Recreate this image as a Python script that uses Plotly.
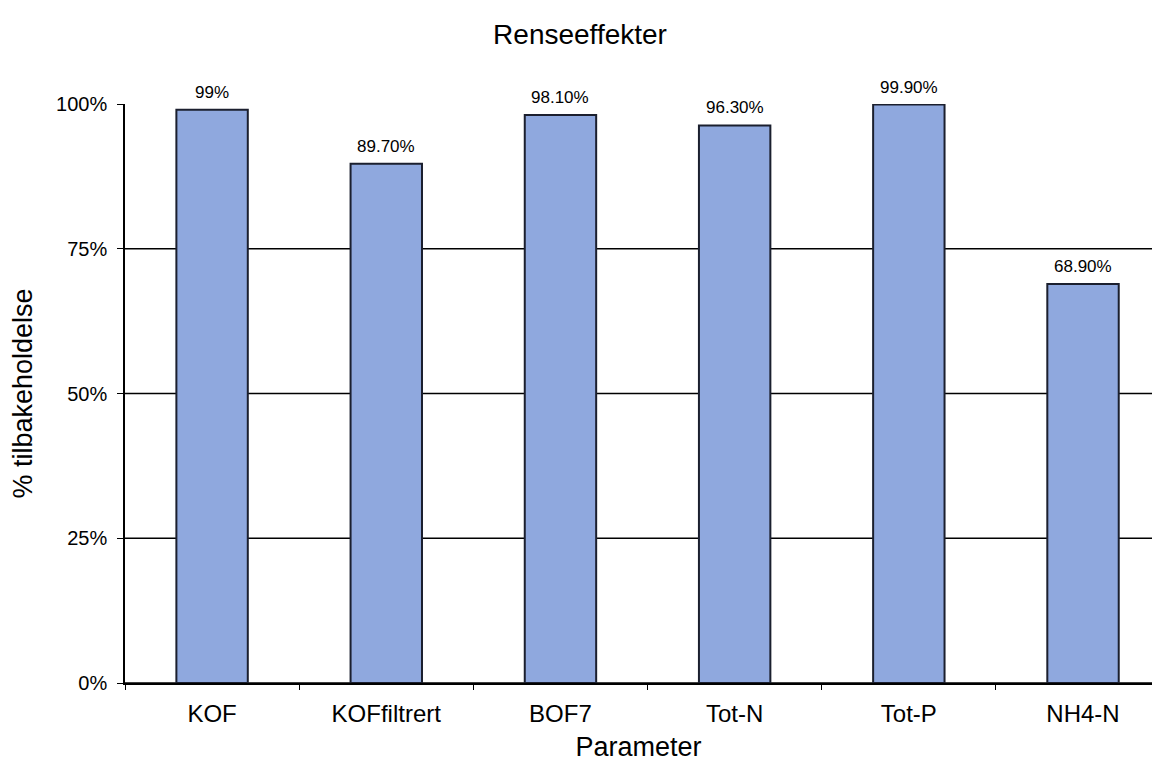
import plotly.graph_objects as go

categories = ["KOF", "KOFfiltrert", "BOF7", "Tot-N", "Tot-P", "NH4-N"]
values = [99.0, 89.7, 98.1, 96.3, 99.9, 68.9]
value_labels = ["99%", "89.70%", "98.10%", "96.30%", "99.90%", "68.90%"]
y_ticks = [0, 25, 50, 75, 100]
y_tick_labels = ["0%", "25%", "50%", "75%", "100%"]

FONT = "Liberation Sans, Arial, sans-serif"

fig = go.Figure()
fig.add_trace(go.Bar(
    x=categories, y=values, cliponaxis=False,
    marker=dict(color="#8FA8DE", line=dict(color="#1b1f2e", width=2)),
    width=0.41,
))

# data labels above the bars
for cat, val, lab in zip(categories, values, value_labels):
    fig.add_annotation(x=cat, y=val, text=lab, showarrow=False,
                       xref="x", yref="y", yanchor="bottom", yshift=6,
                       font=dict(family=FONT, size=17, color="black"))

# horizontal gridlines (and base line) running to the right edge of the page
for v in y_ticks[:-1]:
    fig.add_shape(type="line", xref="paper", x0=0, x1=1.02, yref="y", y0=v, y1=v,
                  line=dict(color="black", width=1.5), layer="below")

fig.update_layout(
    width=1144, height=758,
    margin=dict(l=117, r=0, t=96, b=83),
    paper_bgcolor="white", plot_bgcolor="white",
    showlegend=False,
    title=dict(text="Renseeffekter", x=0.5, xanchor="center", y=0.966, yanchor="middle",
               font=dict(family=FONT, size=28, color="black")),
    font=dict(family=FONT, color="black"),
)
fig.update_xaxes(
    range=[-0.5, 5.396],
    showline=True, linecolor="black", linewidth=1.5,
    ticks="outside", tickson="boundaries", ticklen=5, tickcolor="black",
    ticklabelstandoff=8,
    tickfont=dict(family=FONT, size=24, color="black"),
    title=dict(text="Parameter", font=dict(family=FONT, size=27, color="black"), standoff=12),
    showgrid=False,
)
fig.update_yaxes(
    range=[0, 100], tickvals=y_ticks, ticktext=y_tick_labels,
    showline=True, linecolor="black", linewidth=1.5,
    ticks="outside", ticklen=6, tickcolor="black",
    ticklabelstandoff=6,
    tickfont=dict(family=FONT, size=20, color="black"),
    title=dict(text="% tilbakeholdelse", font=dict(family=FONT, size=27, color="black"), standoff=16),
    showgrid=False, zeroline=False,
)

fig.write_html("out.html")
